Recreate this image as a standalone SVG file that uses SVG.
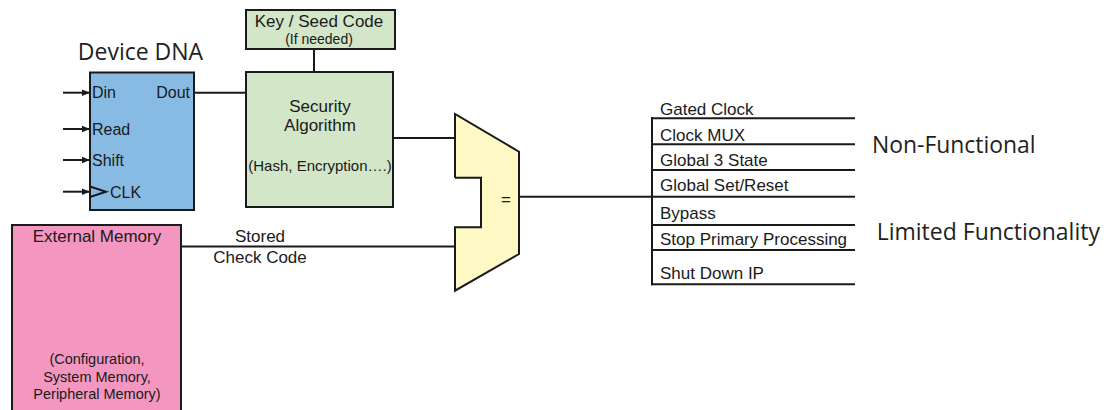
<svg xmlns="http://www.w3.org/2000/svg" width="1117" height="410" viewBox="0 0 1117 410">
<style>
.box{stroke:#1a1a1a;stroke-width:2}
.ln{stroke:#1a1a1a;stroke-width:2;fill:none}
.t{font-family:"Liberation Sans",Arial,sans-serif;fill:#1a1a1a}
.m{font-family:"Open Sans","Noto Sans",sans-serif;fill:#231f20}
</style>
<defs>
<marker id="ah" viewBox="0 0 10 10" refX="10" refY="5" markerWidth="4" markerHeight="4" orient="auto" markerUnits="strokeWidth">
<path d="M0,1 L10,5 L0,9 z" fill="#1a1a1a"/>
</marker>
</defs>
<rect width="1117" height="410" fill="#ffffff"/>
<g id="connectors">
<line class="ln" x1="63" y1="92.7" x2="90" y2="92.7" marker-end="url(#ah)"/>
<line class="ln" x1="63" y1="129" x2="90" y2="129" marker-end="url(#ah)"/>
<line class="ln" x1="63" y1="160" x2="90" y2="160" marker-end="url(#ah)"/>
<line class="ln" x1="63" y1="191.7" x2="90" y2="191.7" marker-end="url(#ah)"/>
<line class="ln" x1="194" y1="92.7" x2="246" y2="92.7"/>
<line class="ln" x1="314" y1="49" x2="314" y2="72"/>
<line class="ln" x1="393" y1="138" x2="455" y2="138"/>
<line class="ln" x1="181" y1="246.5" x2="455" y2="246.5"/>
<line class="ln" x1="519" y1="196.7" x2="652" y2="196.7"/>
<line class="ln" x1="652" y1="117" x2="652" y2="285.3"/>
<line class="ln" x1="651" y1="118.3" x2="855" y2="118.3"/>
<line class="ln" x1="651" y1="144.3" x2="855" y2="144.3"/>
<line class="ln" x1="651" y1="170" x2="855" y2="170"/>
<line class="ln" x1="651" y1="196.7" x2="855" y2="196.7"/>
<line class="ln" x1="651" y1="225" x2="855" y2="225"/>
<line class="ln" x1="651" y1="250" x2="855" y2="250"/>
<line class="ln" x1="651" y1="284.3" x2="855" y2="284.3"/>
</g>
<g id="device-dna">
<text class="m" x="140.5" y="60" font-size="23" text-anchor="middle">Device DNA</text>
<rect class="box" x="90" y="72.5" width="104" height="137.5" fill="#88bbe4"/>
<text class="t" x="92" y="98" font-size="16">Din</text>
<text class="t" x="190" y="98" font-size="16" text-anchor="end">Dout</text>
<text class="t" x="92" y="135" font-size="16">Read</text>
<text class="t" x="92" y="166" font-size="16">Shift</text>
<polyline class="ln" points="90,186.5 106,191.7 90,197"/>
<text class="t" x="110" y="197.5" font-size="16">CLK</text>
</g>
<g id="key-seed">
<rect class="box" x="246" y="10" width="149" height="39" fill="#d3e6c7"/>
<text class="t" x="319" y="27" font-size="17" text-anchor="middle">Key / Seed Code</text>
<text class="t" x="319" y="44" font-size="14" text-anchor="middle">(If needed)</text>
</g>
<g id="security-algorithm">
<rect class="box" x="246" y="72" width="147" height="135" fill="#d3e6c7"/>
<text class="t" x="320" y="112" font-size="17" text-anchor="middle">Security</text>
<text class="t" x="320" y="131" font-size="17" text-anchor="middle">Algorithm</text>
<text class="t" x="320" y="171" font-size="15" text-anchor="middle">(Hash, Encryption….)</text>
</g>
<g id="comparator">
<path d="M455,114 L519,151.7 L519,254 L455,290.7 L455,227.3 L481,227.3 L481,177.7 L455,177.7 Z" fill="#fff9c6" stroke="none"/>
<path d="M455,177.7 L455,114 L519,151.7 L519,254 L455,290.7 L455,227.3 L481,227.3 L481,177.7 L455,177.7" fill="none" stroke="#1a1a1a" stroke-width="2" stroke-linejoin="miter"/>
<text class="t" x="506" y="205" font-size="17" text-anchor="middle">=</text>
</g>
<g id="external-memory">
<rect class="box" x="12" y="225" width="169" height="190" fill="#f497c0"/>
<text class="t" x="97" y="242" font-size="17" text-anchor="middle">External Memory</text>
<text class="t" x="97" y="364" font-size="14.5" text-anchor="middle">(Configuration,</text>
<text class="t" x="97" y="381.5" font-size="14.5" text-anchor="middle">System Memory,</text>
<text class="t" x="97" y="399" font-size="14.5" text-anchor="middle">Peripheral Memory)</text>
</g>
<g id="stored-label">
<text class="t" x="260" y="241.5" font-size="17" text-anchor="middle">Stored</text>
<text class="t" x="260" y="262.5" font-size="17" text-anchor="middle">Check Code</text>
</g>
<g id="outputs">
<text class="t" x="660" y="115" font-size="17">Gated Clock</text>
<text class="t" x="660" y="140.5" font-size="17">Clock MUX</text>
<text class="t" x="660" y="166" font-size="17">Global 3 State</text>
<text class="t" x="660" y="191" font-size="17">Global Set/Reset</text>
<text class="t" x="660" y="218.5" font-size="17">Bypass</text>
<text class="t" x="660" y="245" font-size="17">Stop Primary Processing</text>
<text class="t" x="660" y="279" font-size="17">Shut Down IP</text>
</g>
<g id="categories">
<text class="m" x="872" y="153.3" font-size="22.9">Non-Functional</text>
<text class="m" x="876.7" y="240" font-size="23">Limited Functionality</text>
</g>
</svg>
